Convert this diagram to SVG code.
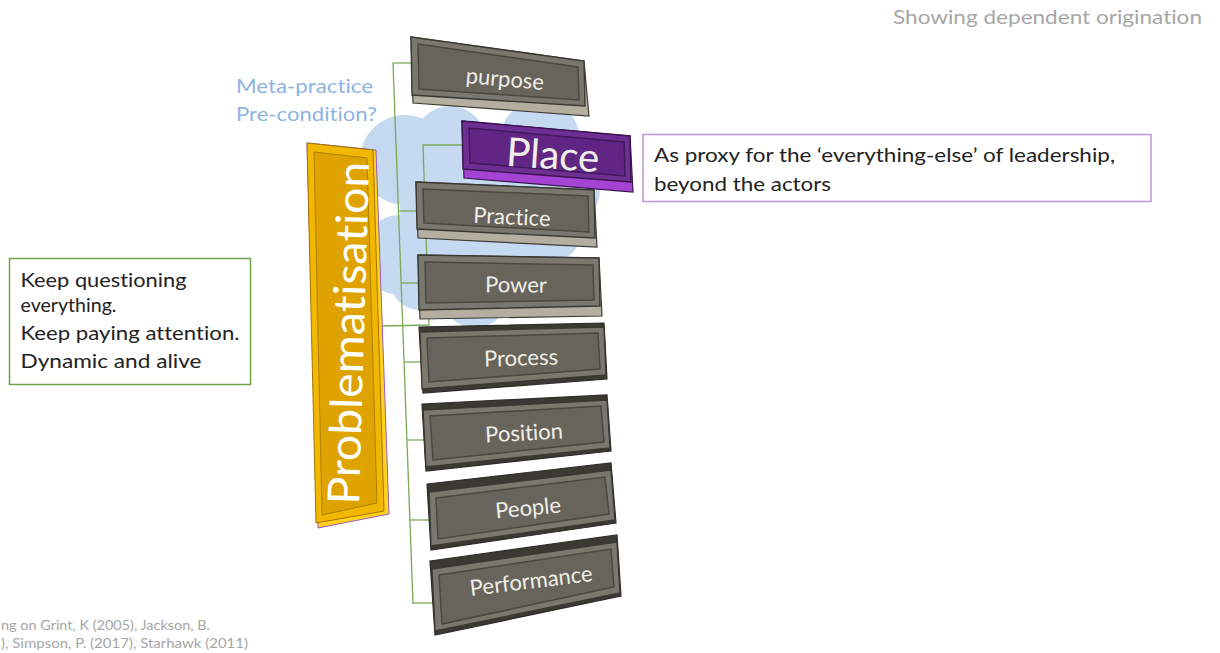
<svg xmlns="http://www.w3.org/2000/svg" width="1220" height="653" viewBox="0 0 1220 653">
<defs>
<style>
.lbl{font-family:"Lato","Open Sans","Liberation Sans",sans-serif;font-variant-ligatures:none;}
.box-lbl{font-family:"Lato","Open Sans","Liberation Sans",sans-serif;font-variant-ligatures:none;fill:#f0eee8;text-anchor:middle;dominant-baseline:central;}
.ext-light{fill:#b3ae9f;stroke:#3d3b36;stroke-width:1.2;}
.ext-dark{fill:#3b3934;stroke:#2e2c28;stroke-width:1.2;}
.face{fill:#7a776e;stroke:#3a3833;stroke-width:1.4;}
.inner{fill:#67645b;stroke:#4a4842;stroke-width:1.5;}
.conn{fill:none;stroke:#79aa57;stroke-width:1.3;}
.cloud circle{fill:#c5d9f1;}
</style>
</defs>
<rect x="0" y="0" width="1220" height="653" fill="#ffffff"/>

<g id="title">
<text class="lbl" x="893" y="24" font-size="20" fill="#a6a6a6" textLength="309" lengthAdjust="spacingAndGlyphs">Showing dependent origination</text>
</g>

<g id="cloud" class="cloud">
<circle cx="405" cy="160" r="45"/>
<circle cx="400" cy="255" r="40"/>
<circle cx="420" cy="280" r="30"/>
<circle cx="475" cy="295" r="33"/>
<circle cx="450" cy="142" r="36"/>
<circle cx="540" cy="140" r="40"/>
<circle cx="565" cy="190" r="35"/>
<circle cx="555" cy="235" r="25"/>
<circle cx="480" cy="210" r="80"/>
<circle cx="520" cy="270" r="30"/>
</g>

<g id="meta-label">
<text class="lbl" x="236" y="93" font-size="20" fill="#8db3e2" textLength="137" lengthAdjust="spacingAndGlyphs">Meta-practice</text>
<text class="lbl" x="236" y="121" font-size="20" fill="#8db3e2" textLength="141" lengthAdjust="spacingAndGlyphs">Pre-condition?</text>
</g>

<g id="connectors">
<polyline class="conn" points="393,63 413,604"/>
<polyline class="conn" points="393,63 411,63"/>
<polyline class="conn" points="398.5,211 417,211"/>
<polyline class="conn" points="401,283 419,283"/>
<polyline class="conn" points="404,362 421,362"/>
<polyline class="conn" points="407,440 424,440"/>
<polyline class="conn" points="410,520 429,520"/>
<polyline class="conn" points="413,603 433,603"/>
<polyline class="conn" points="382,326 429,325 423,145 463,145"/>
</g>

<g id="node-problematisation">
<polygon points="307,143 376,150 389,514 318,528" fill="#ffd21f" stroke="#9b59c2" stroke-width="1"/>
<polygon points="307,143 373,150 384,511 316,523" fill="#f2b800" stroke="#a57400" stroke-width="1"/>
<polygon points="314,152 367,158 377,503 322,515" fill="#dea300" stroke="#b07f00" stroke-width="1"/>
<text class="lbl" x="347" y="333" font-size="44" fill="#ffffff" text-anchor="middle" dominant-baseline="central" textLength="343" lengthAdjust="spacingAndGlyphs" transform="rotate(-88.3 347 333)">Problematisation</text>
</g>

<g id="node-purpose">
<polygon class="ext-light" points="411,37 584,61 589,116 413,103"/>
<polygon class="face" points="411,37 584,61 585,106 412,95"/>
<polygon class="inner" points="418,44 578,67 579,100 419,89"/>
<text class="box-lbl" x="505" y="78" font-size="22" transform="rotate(5 505 78)">purpose</text>
</g>

<g id="node-place">
<polygon points="462,121 630,136 633,192 464,178" fill="#a544d4" stroke="#3a1450" stroke-width="1.2"/>
<polygon points="462,121 630,136 631,182 463,169" fill="#6e2f92" stroke="#3a1450" stroke-width="1.4"/>
<polygon points="469,128 624,142 625,176 470,163" fill="#612683" stroke="#45175f" stroke-width="1.5"/>
<text class="box-lbl" x="553" y="154" font-size="40" transform="rotate(4 553 154)">Place</text>
</g>

<g id="node-practice">
<polygon class="ext-light" points="416,182 594,190 597,247 418,238"/>
<polygon class="face" points="416,182 594,190 595,238 417,229"/>
<polygon class="inner" points="423,189 588,196 589,232 424,223"/>
<text class="box-lbl" x="512" y="216" font-size="22" transform="rotate(2.5 512 216)">Practice</text>
</g>

<g id="node-power">
<polygon class="ext-light" points="418,255 599,258 602,316 420,319"/>
<polygon class="face" points="418,255 599,258 600,306 419,310"/>
<polygon class="inner" points="425,262 593,265 594,300 426,303"/>
<text class="box-lbl" x="516" y="284" font-size="22" transform="rotate(0.5 516 284)">Power</text>
</g>

<g id="node-process">
<polygon class="ext-dark" points="419,327 604,323 607,379 423,393"/>
<polygon class="face" points="420,332 604,327 606,375 422,389"/>
<polygon class="inner" points="427,338 598,333 600,369 429,382"/>
<text class="box-lbl" x="521" y="357" font-size="22" transform="rotate(-1.5 521 357)">Process</text>
</g>

<g id="node-position">
<polygon class="ext-dark" points="422,404 607,395 611,451 426,471"/>
<polygon class="face" points="423,410 607,400 610,448 426,467"/>
<polygon class="inner" points="430,416 601,406 604,442 433,460"/>
<text class="box-lbl" x="524" y="432" font-size="22" transform="rotate(-3 524 432)">Position</text>
</g>

<g id="node-people">
<polygon class="ext-dark" points="427,484 611,463 616,523 431,550"/>
<polygon class="face" points="429,492 611,470 615,520 431,546"/>
<polygon class="inner" points="436,498 605,477 609,514 438,539"/>
<text class="box-lbl" x="528" y="507" font-size="22" transform="rotate(-5.5 528 507)">People</text>
</g>

<g id="node-performance">
<polygon class="ext-dark" points="430,561 617,535 621,596 435,635"/>
<polygon class="face" points="432,569 617,542 620,593 435,631"/>
<polygon class="inner" points="439,575 611,549 614,587 442,624"/>
<text class="box-lbl" x="531" y="580" font-size="22" transform="rotate(-7 531 580)">Performance</text>
</g>

<g id="node-place-note">
<rect x="643" y="134.5" width="508" height="67" fill="#ffffff" stroke="#b996d9" stroke-width="1.5"/>
<text class="lbl" x="654" y="162" font-size="19" fill="#222222" textLength="461" lengthAdjust="spacingAndGlyphs">As proxy for the ‘everything-else’ of leadership,</text>
<text class="lbl" x="654" y="191" font-size="19" fill="#222222" textLength="177" lengthAdjust="spacingAndGlyphs">beyond the actors</text>
</g>

<g id="node-keep-note">
<rect x="9.5" y="258.5" width="241" height="126" fill="#ffffff" stroke="#6fa44a" stroke-width="1.5"/>
<text class="lbl" x="20.5" y="287" font-size="20" fill="#222222" textLength="166" lengthAdjust="spacingAndGlyphs">Keep questioning</text>
<text class="lbl" x="20.5" y="312" font-size="20" fill="#222222" textLength="96" lengthAdjust="spacingAndGlyphs">everything.</text>
<text class="lbl" x="20.5" y="340" font-size="20" fill="#222222" textLength="219" lengthAdjust="spacingAndGlyphs">Keep paying attention.</text>
<text class="lbl" x="20.5" y="368" font-size="20" fill="#222222" textLength="181" lengthAdjust="spacingAndGlyphs">Dynamic and alive</text>
</g>

<g id="citation">
<text class="lbl" x="1" y="630" font-size="12.5" fill="#a6a6a6" textLength="209" lengthAdjust="spacingAndGlyphs">ng on Grint, K (2005), Jackson, B.</text>
<text class="lbl" x="1" y="648" font-size="12.5" fill="#a6a6a6" textLength="247" lengthAdjust="spacingAndGlyphs">),  Simpson, P. (2017), Starhawk (2011)</text>
</g>
</svg>
